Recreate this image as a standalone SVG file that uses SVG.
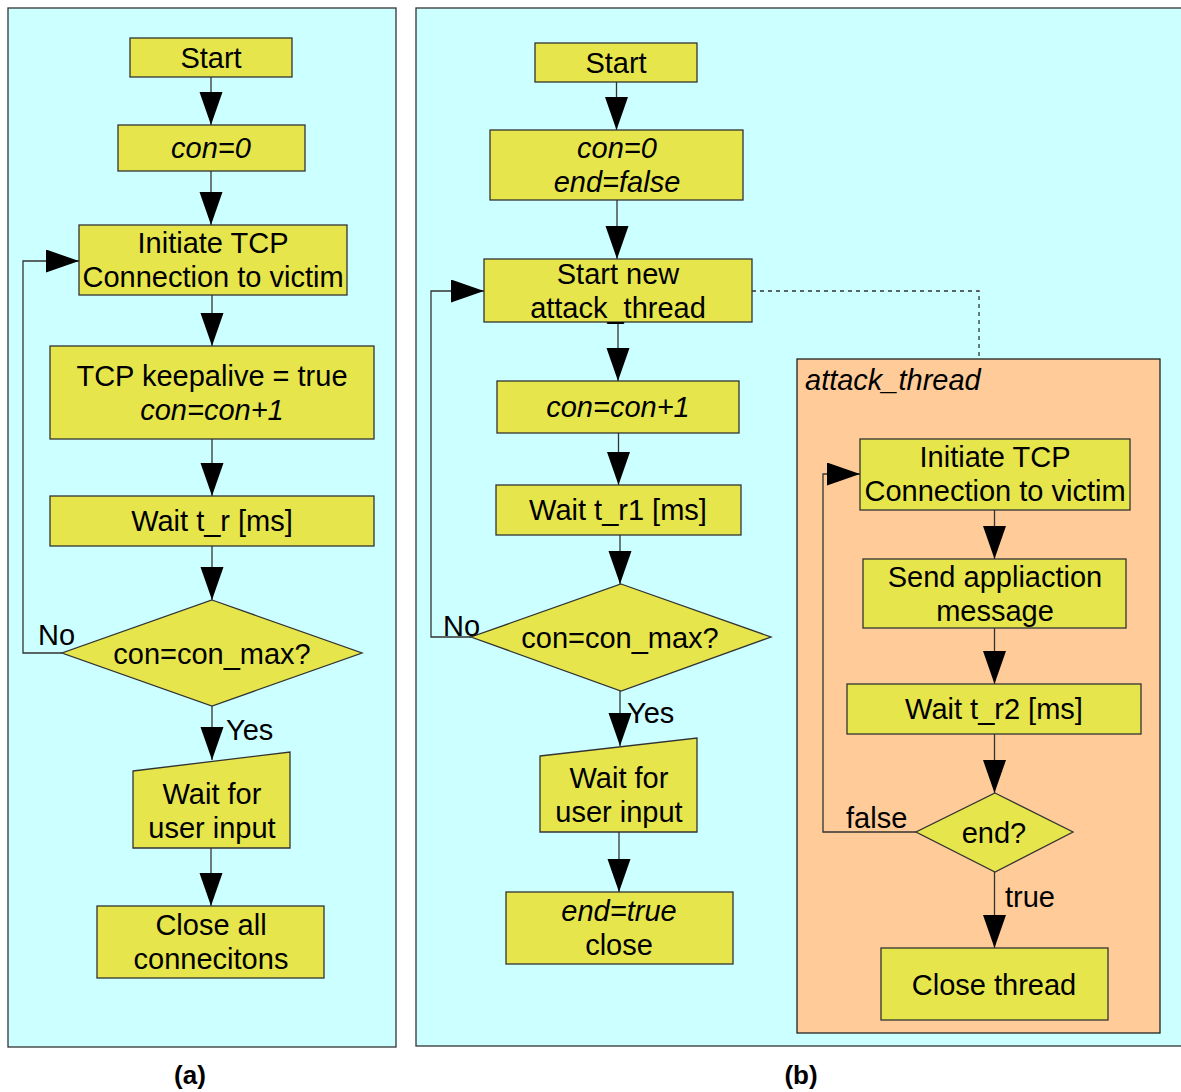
<svg xmlns="http://www.w3.org/2000/svg" width="1181" height="1092" viewBox="0 0 1181 1092">
  <style>
    .panel { fill: #ccffff; stroke: #333333; stroke-width: 1.3; }
    .thread { fill: #ffcc99; stroke: #222222; stroke-width: 1.3; }
    .box { fill: #e6e64c; stroke: #333333; stroke-width: 1.3; }
    .t { font-family: "Liberation Sans", Arial, sans-serif; font-size: 29px; fill: #000000; text-anchor: middle; }
    .i { font-style: italic; }
    .lbl { font-family: "Liberation Sans", Arial, sans-serif; font-size: 29px; fill: #000000; }
    .cap { font-family: "Liberation Sans", Arial, sans-serif; font-size: 26px; font-weight: bold; fill: #000000; text-anchor: middle; }
    .flow { fill: none; stroke: #333333; stroke-width: 1.3; marker-end: url(#head); }
    .dash { fill: none; stroke: #333333; stroke-width: 1.3; stroke-dasharray: 4 4; }
  </style>
  <defs>
    <marker id="head" markerUnits="userSpaceOnUse" markerWidth="34" markerHeight="24" refX="33" refY="11.5" orient="auto" viewBox="0 0 34 24">
      <path d="M0,0 L33,11.5 L0,23 Z" fill="#000000"/>
    </marker>
  </defs>

  <!-- panel backgrounds -->
  <rect class="panel" x="8" y="8" width="388" height="1039"/>
  <rect class="panel" x="416" y="8" width="780" height="1038"/>
  <g id="attack_thread_frame">
    <rect class="thread" x="797" y="359" width="363" height="674"/>
    <text class="lbl i" x="805" y="390">attack_thread</text>
  </g>

  <!-- connectors -->
  <g id="connectors">
    <!-- (a) -->
    <path class="flow" d="M211,77 V125"/>
    <path class="flow" d="M211,171 V225"/>
    <path class="flow" d="M212,295 V346"/>
    <path class="flow" d="M212,439 V496"/>
    <path class="flow" d="M212,546 V600"/>
    <path class="flow" d="M212,706 V760"/>
    <path class="flow" d="M211,842 V906"/>
    <path class="flow" d="M62,653 H23 V261 H79"/>
    <!-- (b) -->
    <path class="flow" d="M616.5,82 V130"/>
    <path class="flow" d="M617,200 V259"/>
    <path class="flow" d="M618,322 V381"/>
    <path class="flow" d="M618.5,433 V485"/>
    <path class="flow" d="M620,535 V584"/>
    <path class="flow" d="M620,691 V746"/>
    <path class="flow" d="M619,825 V892"/>
    <path class="flow" d="M471,637 H431 V291 H484"/>
    <path class="dash" d="M752,291 H979 V359"/>
    <!-- attack_thread -->
    <path class="flow" d="M994.5,510 V559"/>
    <path class="flow" d="M994.5,628 V684"/>
    <path class="flow" d="M994.5,734 V793"/>
    <path class="flow" d="M994.5,872 V948"/>
    <path class="flow" d="M916,832 H823 V474 H860"/>
  </g>

  <!-- (a) nodes -->
  <g id="a_start">
    <rect class="box" x="130" y="38" width="162" height="39"/>
    <text class="t" x="211" y="68">Start</text>
  </g>
  <g id="a_con0">
    <rect class="box" x="118" y="125" width="187" height="46"/>
    <text class="t i" x="211" y="158">con=0</text>
  </g>
  <g id="a_initiate">
    <rect class="box" x="79" y="225" width="268" height="70"/>
    <text class="t" x="213" y="253">Initiate TCP</text>
    <text class="t" x="213" y="287">Connection to victim</text>
  </g>
  <g id="a_keepalive">
    <rect class="box" x="50" y="346" width="324" height="93"/>
    <text class="t" x="212" y="386">TCP keepalive = true</text>
    <text class="t i" x="212" y="420">con=con+1</text>
  </g>
  <g id="a_wait">
    <rect class="box" x="50" y="496" width="324" height="50"/>
    <text class="t" x="212" y="531">Wait t_r [ms]</text>
  </g>
  <g id="a_check">
    <polygon class="box" points="212,600 362,653 212,706 62,653"/>
    <text class="t" x="212" y="664">con=con_max?</text>
  </g>
  <g id="a_input">
    <polygon class="box" points="133,771 290,752 290,848 133,848"/>
    <text class="t" x="212" y="804">Wait for</text>
    <text class="t" x="212" y="838">user input</text>
  </g>
  <g id="a_close">
    <rect class="box" x="97" y="906" width="227" height="72"/>
    <text class="t" x="211" y="935">Close all</text>
    <text class="t" x="211" y="969">connecitons</text>
  </g>
  <text class="lbl" x="38" y="645">No</text>
  <text class="lbl" x="226" y="740">Yes</text>
  <text class="cap" x="190" y="1084">(a)</text>

  <!-- (b) nodes -->
  <g id="b_start">
    <rect class="box" x="535" y="43" width="162" height="39"/>
    <text class="t" x="616" y="73">Start</text>
  </g>
  <g id="b_init">
    <rect class="box" x="490" y="130" width="253" height="70"/>
    <text class="t i" x="617" y="158">con=0</text>
    <text class="t i" x="617" y="192">end=false</text>
  </g>
  <g id="b_spawn">
    <rect class="box" x="484" y="259" width="268" height="63"/>
    <text class="t" x="618" y="284">Start new</text>
    <text class="t" x="618" y="318">attack_thread</text>
  </g>
  <g id="b_inc">
    <rect class="box" x="497" y="381" width="242" height="52"/>
    <text class="t i" x="618" y="417">con=con+1</text>
  </g>
  <g id="b_wait">
    <rect class="box" x="496" y="485" width="245" height="50"/>
    <text class="t" x="618" y="520">Wait t_r1 [ms]</text>
  </g>
  <g id="b_check">
    <polygon class="box" points="621,584 771,637 621,691 471,637"/>
    <text class="t" x="620" y="648">con=con_max?</text>
  </g>
  <g id="b_input">
    <polygon class="box" points="540,756 697,738 697,832 540,832"/>
    <text class="t" x="619" y="788">Wait for</text>
    <text class="t" x="619" y="822">user input</text>
  </g>
  <g id="b_close">
    <rect class="box" x="506" y="892" width="227" height="72"/>
    <text class="t i" x="619" y="921">end=true</text>
    <text class="t" x="619" y="955">close</text>
  </g>
  <text class="lbl" x="443" y="636">No</text>
  <text class="lbl" x="627" y="723">Yes</text>
  <text class="cap" x="801" y="1084">(b)</text>

  <!-- attack_thread nodes -->
  <g id="t_initiate">
    <rect class="box" x="860" y="439" width="270" height="71"/>
    <text class="t" x="995" y="467">Initiate TCP</text>
    <text class="t" x="995" y="501">Connection to victim</text>
  </g>
  <g id="t_send">
    <rect class="box" x="863" y="559" width="263" height="69"/>
    <text class="t" x="995" y="587">Send appliaction</text>
    <text class="t" x="995" y="621">message</text>
  </g>
  <g id="t_wait">
    <rect class="box" x="847" y="684" width="294" height="50"/>
    <text class="t" x="994" y="719">Wait t_r2 [ms]</text>
  </g>
  <g id="t_check">
    <polygon class="box" points="995,793 1073,832 995,872 916,832"/>
    <text class="t" x="994" y="843">end?</text>
  </g>
  <g id="t_close">
    <rect class="box" x="881" y="948" width="227" height="72"/>
    <text class="t" x="994" y="995">Close thread</text>
  </g>
  <text class="lbl" x="846" y="828">false</text>
  <text class="lbl" x="1005" y="907">true</text>
</svg>
